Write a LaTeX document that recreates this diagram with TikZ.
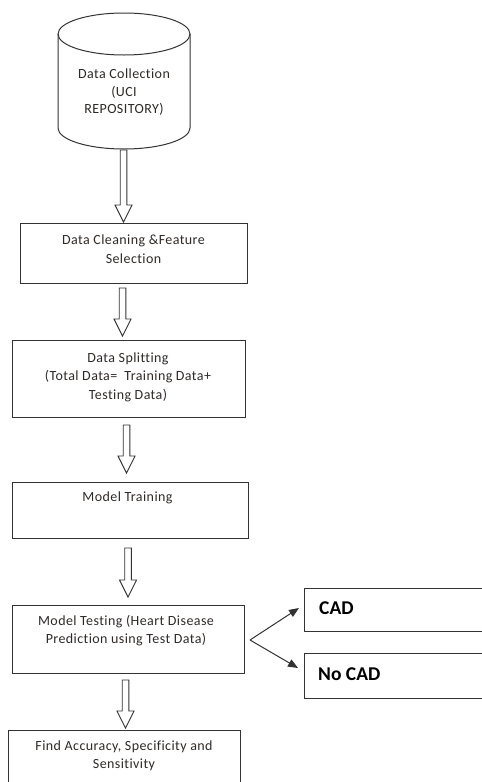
\documentclass[tikz,border=0pt]{standalone}
\usepackage{fontspec}
\setmainfont{Carlito}[LetterSpace=3,Ligatures={NoCommon,NoContextual}]
\newfontfamily\boldcad{Carlito}[BoldFont=Carlito Bold,Ligatures={NoCommon,NoContextual}]
\usetikzlibrary{shapes.geometric,arrows.meta}
\definecolor{ln}{HTML}{333333}
\definecolor{tx}{HTML}{2E2A28}
\tikzset{
  box/.style={draw=ln, line width=1pt, rectangle, inner sep=0pt, anchor=north west},
  txt/.style={text=tx, align=center, inner sep=0pt, font=\fontsize{14}{18.5}\selectfont},
  bigtxt/.style={text=black, inner sep=0pt, anchor=west, font=\boldcad\fontsize{19.5}{22}\selectfont\bfseries},
  hollow/.style={draw=ln, line width=0.9pt, fill=white},
  branch/.style={draw=ln, line width=1pt, -{Triangle[length=10pt,width=8pt]}}
}
% block arrow: x, top y, tip y
\newcommand{\blockarrow}[3]{%
  \draw[hollow] (#1-3.3,#2) -- (#1-3.3,#3-17) -- (#1-8.5,#3-17) -- (#1,#3)
    -- (#1+8.5,#3-17) -- (#1+3.3,#3-17) -- (#1+3.3,#2) -- cycle;}
\begin{document}
\begin{tikzpicture}[x=1pt,y=-1pt]
\useasboundingbox (0,0) rectangle (482,782);
\clip (0,0) rectangle (482,782);
% cylinder
\coordinate (cyl) at (124,34);
\draw[draw=ln, line width=1pt, fill=white]
  (58,34) -- (58,128) arc[start angle=180, end angle=0, x radius=66, y radius=21]
  -- (190,34) arc[start angle=0, end angle=-180, x radius=66, y radius=21] -- cycle;
\draw[draw=ln, line width=1pt] (58,34) arc[start angle=180, end angle=0, x radius=66, y radius=21];
\node[txt, font=\fontsize{14}{17.5}\selectfont] (t1) at (124,92.5) {Data Collection\\(UCI\\REPOSITORY)};

% boxes
\node[box, minimum width=227pt, minimum height=60pt] (b2) at (20,223) {};
\node[txt] (t2) at (133.5,249) {Data Cleaning \&Feature\\Selection};

\node[box, minimum width=233pt, minimum height=77pt] (b3) at (12,340) {};
\node[txt] (t3) at (128,377) {Data Splitting\\(Total Data=\ \ Training Data+\\Testing Data)};

\node[box, minimum width=236pt, minimum height=56pt] (b4) at (12,482) {};
\node[txt] (t4) at (127.5,498) {Model Training};

\node[box, minimum width=232pt, minimum height=68pt] (b5) at (12,605) {};
\node[txt] (t5) at (126,630.5) {Model Testing (Heart Disease\\Prediction using Test Data)};

\node[box, minimum width=232pt, minimum height=70pt] (b6) at (8,730) {};
\node[txt] (t6) at (124,756) {Find Accuracy, Specificity and\\Sensitivity};

\node[box, minimum width=177.5pt, minimum height=43pt] (cad) at (304,588) {};
\node[bigtxt] (tc) at (319,608) {CAD};
\node[box, minimum width=177.5pt, minimum height=45pt] (nocad) at (304,653) {};
\node[bigtxt] (tn) at (318,674) {No CAD};

% block arrows
\blockarrow{123.5}{150}{222}
\blockarrow{122.5}{288}{336}
\blockarrow{126.5}{425}{473}
\blockarrow{128}{548}{597}
\blockarrow{125.5}{680}{728}

% branch arrows
\coordinate (br) at (250,640);
\coordinate (tipc) at (299,608);
\coordinate (tipn) at (298,668);
\draw[branch] (br) -- (tipc);
\draw[branch] (br) -- (tipn);
\end{tikzpicture}
\end{document}
